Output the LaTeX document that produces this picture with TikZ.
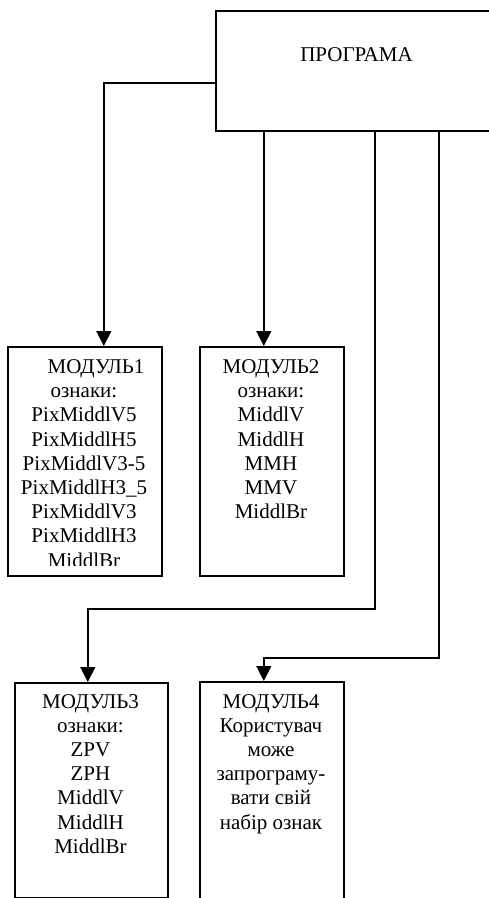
\documentclass[tikz,border=0pt]{standalone}
\usepackage{fontspec}
\setmainfont{Liberation Serif}
\usetikzlibrary{arrows.meta}
\newcommand{\lines}[1]{\begin{tabular}[t]{@{}c@{}}#1\end{tabular}}
\begin{document}
\begin{tikzpicture}[x=1pt,y=1pt,
  box/.style={draw, line width=1.6pt, anchor=north west, inner sep=0pt},
  txt/.style={inner sep=0pt, font=\fontsize{21}{24.2}\selectfont},
  arr/.style={line width=1.4pt, -{Triangle[width=15pt,length=15pt]}}]
\useasboundingbox (0,0) rectangle (489,-898);
% boxes
\node[box, minimum width=305pt, minimum height=120pt] (prog) at (215,-10) {};
\node[box, minimum width=154pt, minimum height=229pt] (m1) at (7,-346) {};
\node[box, minimum width=144pt, minimum height=229pt] (m2) at (199,-346) {};
\node[box, minimum width=153pt, minimum height=215pt] (m3) at (14,-682) {};
\node[box, minimum width=144pt, minimum height=240pt] (m4) at (199,-681) {};
% texts
\node[txt, anchor=base] (tp) at (356.5,-61) {ПРОГРАМА};
\begin{scope}
  \clip (7,-346) rectangle (161,-565);
  \node[txt, anchor=base] (t1) at (84,-373.5) {\lines{\hspace*{24pt}МОДУЛЬ1\\ознаки:\\PixMiddlV5\\PixMiddlH5\\PixMiddlV3-5\\PixMiddlH3\_5\\PixMiddlV3\\PixMiddlH3\\MiddlBr}};
\end{scope}
\node[txt, anchor=base] (t2) at (271,-373.5) {\lines{МОДУЛЬ2\\ознаки:\\MiddlV\\MiddlH\\MMH\\MMV\\MiddlBr}};
\node[txt, anchor=base] (t3) at (90.5,-708) {\lines{МОДУЛЬ3\\ознаки:\\ZPV\\ZPH\\MiddlV\\MiddlH\\MiddlBr}};
\node[txt, anchor=base] (t4) at (271,-708) {\lines{МОДУЛЬ4\\Користувач\\може\\запрограму-\\вати свій\\набір ознак}};
% connectors
\coordinate (m1in) at ([xshift=19pt]m1.north);
\coordinate (m2in) at ([xshift=-8pt]m2.north);
\coordinate (m3in) at ([xshift=-3.5pt]m3.north);
\coordinate (m4in) at ([xshift=-8pt]m4.north);
\coordinate (k3) at (375,-609);
\coordinate (k4) at (439,-658);
\draw[arr] ([yshift=-12pt]prog.west) -| (m1in);
\draw[arr] (prog.south -| m2in) -- (m2in);
\draw[arr] (prog.south -| k3) -- (k3) -| (m3in);
\draw[arr] (prog.south -| k4) -- (k4) -| (m4in);
\end{tikzpicture}
\end{document}
